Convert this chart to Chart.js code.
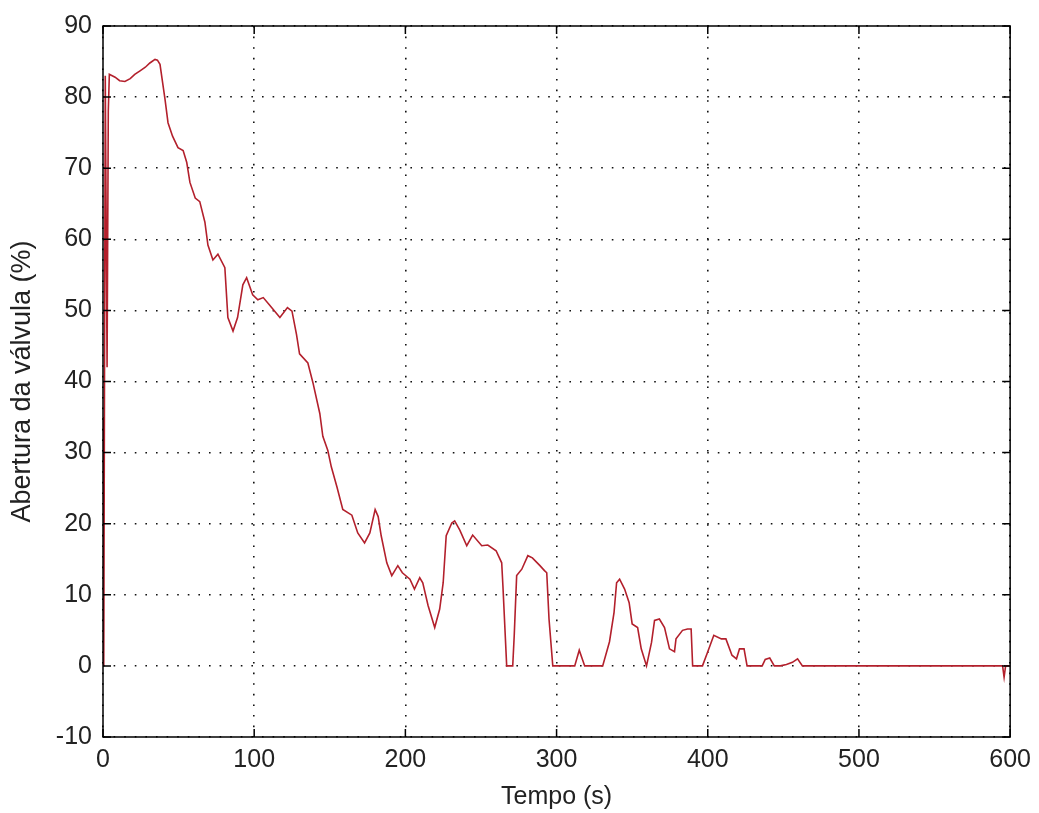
<!DOCTYPE html>
<html>
<head>
<meta charset="utf-8">
<script src="https://cdn.jsdelivr.net/npm/chart.js@4/dist/chart.umd.min.js"></script>
<style>
  html, body { margin: 0; padding: 0; background: #fff; }
  canvas { display: block; }
</style>
</head>
<body>
<canvas id="valvula" width="1039" height="813"></canvas>
<script>
// valve opening over time
const tempo = [
  0, 0.5, 1.5, 2.7, 3.5, 4.2, 8, 11, 14.5, 18, 21, 24.5, 28, 31, 34.4, 36, 37.7, 41, 43, 46, 49.6, 53, 55.4, 57.5, 61, 64, 67.4,
  69.4, 72.7, 76, 80.6, 82.6, 86, 89, 92.5, 95, 99, 102.4, 106, 110, 117, 122, 125, 128, 130,
  135.5, 139, 143.4, 145.4, 148.7, 151, 154.7, 158.6, 164.6, 168.5, 173, 176.5, 180, 182, 184,
  187.7, 191, 195, 198, 203, 206, 209.5, 211.5, 215, 219.4, 222.7, 225, 227, 230.7, 232.6, 236,
  240.6, 244.5, 250.5, 254.5, 260, 263.7, 264.5, 267, 271, 272, 273.6, 277, 281, 284, 289, 292,
  293.5, 295, 297.5, 312, 315, 318.6, 330.5, 335, 338, 339.7, 341.7, 345, 348, 350, 353.6, 356,
  359.5, 362.8, 364.8, 368, 371.4, 374.7, 378, 379, 383.3, 386.6, 389, 390, 396.5, 400, 404, 409,
  412, 416, 419, 421, 424, 426, 436, 438, 441, 444, 448, 452, 456, 459.4, 462.6, 595, 596, 597, 600
];
const abertura = [
  35, 0, 83, 42, 78, 83.2, 82.8, 82.3, 82.2, 82.6, 83.2, 83.7, 84.2, 84.8, 85.3, 85.2, 84.6, 79.7, 76.4, 74.5, 72.9, 72.5, 70.8, 68, 65.8, 65.3, 62.4,
  59.2, 57.1, 57.9, 56, 49, 47.1, 49, 53.6, 54.6, 52.2, 51.5, 51.8, 50.8, 49, 50.4, 49.9, 46.6, 43.9,
  42.6, 39.7, 35.5, 32.3, 30.3, 28, 25.2, 22, 21.2, 18.7, 17.3, 18.7, 22, 21, 18.3,
  14.5, 12.7, 14.1, 13.1, 12.2, 10.8, 12.4, 11.7, 8.5, 5.4, 8, 11.7, 18.3, 20.1, 20.4, 19.1,
  16.9, 18.4, 16.9, 17, 16.2, 14.5, 11.3, 0, 0, 4.3, 12.7, 13.6, 15.5, 15.2, 14.1, 13.4,
  13.1, 6.6, 0, 0, 2.2, 0, 0, 3.4, 7.5, 11.7, 12.2, 10.8, 8.9, 5.9, 5.4, 2.4,
  0, 3.3, 6.4, 6.6, 5.4, 2.4, 2, 3.8, 5, 5.2, 5.2, 0, 0, 2, 4.3, 3.8,
  3.8, 1.5, 1, 2.4, 2.4, 0, 0, 0.9, 1.1, 0, 0, 0.2, 0.5, 1, 0, 0, -1.6, 0, 0
];
const xTicks = [0, 100, 200, 300, 400, 500, 600];
const yTicks = [-10, 0, 10, 20, 30, 40, 50, 60, 70, 80, 90];

const fontFamily = '"Liberation Sans", Arial, sans-serif';

// axes box with short inward tick marks on all four sides
const axesBox = {
  id: 'axesBox',
  afterDraw(chart) {
    const { ctx, chartArea: a, scales } = chart;
    const len = 8;
    ctx.save();
    ctx.strokeStyle = '#000';
    ctx.lineWidth = 1.5;
    ctx.strokeRect(a.left, a.top, a.right - a.left, a.bottom - a.top);
    ctx.beginPath();
    xTicks.forEach(v => {
      const px = scales.x.getPixelForValue(v);
      ctx.moveTo(px, a.bottom); ctx.lineTo(px, a.bottom - len);
      ctx.moveTo(px, a.top); ctx.lineTo(px, a.top + len);
    });
    yTicks.forEach(v => {
      const py = scales.y.getPixelForValue(v);
      ctx.moveTo(a.left, py); ctx.lineTo(a.left + len, py);
      ctx.moveTo(a.right, py); ctx.lineTo(a.right - len, py);
    });
    ctx.stroke();
    ctx.restore();
  }
};

new Chart(document.getElementById('valvula'), {
  type: 'line',
  data: {
    datasets: [{
      data: tempo.map((t, i) => ({ x: t, y: abertura[i] })),
      borderColor: '#b3202c',
      borderWidth: 1.6,
      pointRadius: 0,
      tension: 0,
      fill: false
    }]
  },
  options: {
    responsive: false,
    animation: false,
    layout: { padding: { top: 21, right: 28, left: 0, bottom: 0 } },
    plugins: { legend: { display: false }, tooltip: { enabled: false } },
    scales: {
      x: {
        type: 'linear',
        min: 0, max: 600,
        afterBuildTicks: s => { s.ticks = xTicks.map(v => ({ value: v })); },
        afterFit: s => { s.height = 76; },
        ticks: { color: '#222', padding: 8, font: { family: fontFamily, size: 25 } },
        grid: { color: '#111', lineWidth: 1.6, drawTicks: false },
        border: { display: false, dash: [1.6, 9] },
        title: {
          display: true, text: 'Tempo (s)', color: '#222',
          font: { family: fontFamily, size: 25 }, padding: { top: 0, bottom: 1 }
        }
      },
      y: {
        min: -10, max: 90,
        afterBuildTicks: s => { s.ticks = yTicks.map(v => ({ value: v })); },
        afterFit: s => { s.width = 103; },
        ticks: { color: '#222', padding: 11, font: { family: fontFamily, size: 25 } },
        grid: { color: '#111', lineWidth: 1.6, drawTicks: false },
        border: { display: false, dash: [1.6, 9] },
        title: {
          display: true, text: 'Abertura da válvula (%)', color: '#222',
          font: { family: fontFamily, size: 27 }, padding: { top: 6, bottom: 0 }
        }
      }
    }
  },
  plugins: [axesBox]
});
</script>
</body>
</html>
